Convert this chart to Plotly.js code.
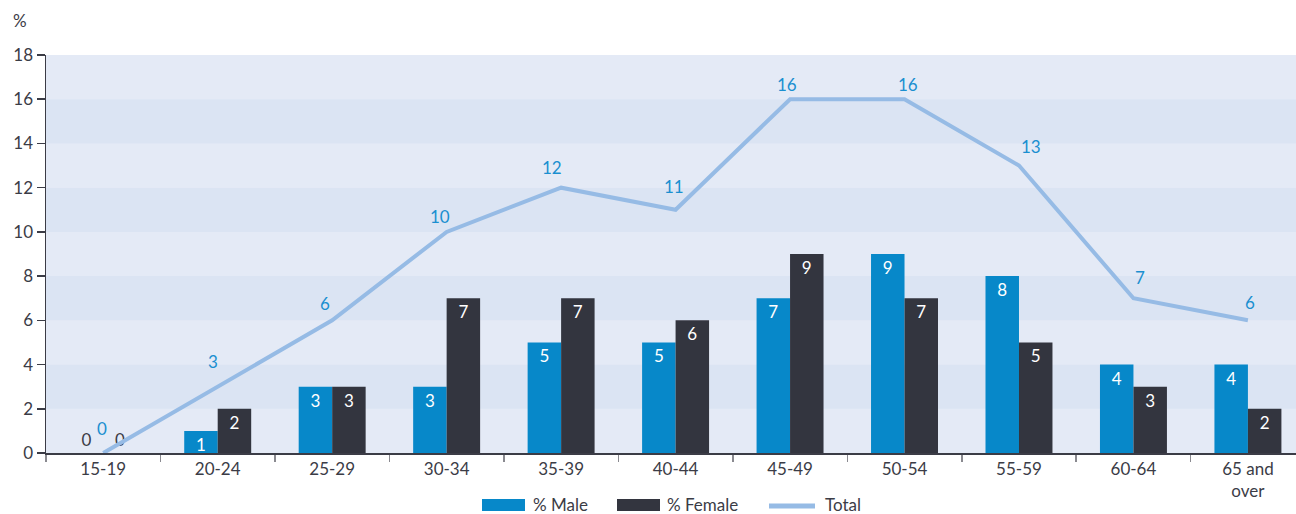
<!DOCTYPE html>
<html>
<head>
<meta charset="utf-8">
<script src="https://cdn.plot.ly/plotly-3.0.1.min.js"></script>
<style>
html,body{margin:0;padding:0;background:#fff;}
#chart{width:1296px;height:514px;}
</style>
</head>
<body>
<div id="chart"></div>
<script>
const categories = ["15-19","20-24","25-29","30-34","35-39","40-44","45-49","50-54","55-59","60-64","65 and<br>over"];
const male = [0,1,3,3,5,5,7,9,8,4,4];
const female = [0,2,3,7,7,6,9,7,5,3,2];
const total = [0,3,6,10,12,11,16,16,13,7,6];
const yTicks = [0,2,4,6,8,10,12,14,16,18];

// label offsets (style only, in pixels) for the Total labels
const totalLabelDx = [-1,-5,-7,-7,-9,-2,-3,3,12,7,2];
const totalLabelDy = [25,25,17,15,20,23,15,15,19,21,18];

const FONT = "Lato, 'Open Sans', sans-serif";
const TXT = "#3b3c46";
const MALE_C = "#0788c9";
const FEMALE_C = "#33353f";
const LINE_C = "#96bbe5";
const LBL_C = "#1a8fd0";

const W = 1296, H = 514, L = 46, T = 55, B = 61, R = 0;
const plotW = W - L - R, plotH = H - T - B;
const px = x => (x - L) / plotW;
const py = y => (H - B - y) / plotH;

const textPos = arr => arr.map(v => v === 0 ? "outside" : "inside");

const traces = [
  {type:"bar", name:"% Male", x:categories, y:male, marker:{color:MALE_C},
   text:male.map(String), textposition:textPos(male), insidetextanchor:"end", textangle:0,
   insidetextfont:{color:"#ffffff", size:17, family:FONT},
   outsidetextfont:{color:TXT, size:17, family:FONT},
   constraintext:"none", cliponaxis:false, hoverinfo:"skip", showlegend:false},
  {type:"bar", name:"% Female", x:categories, y:female, marker:{color:FEMALE_C},
   text:female.map(String), textposition:textPos(female), insidetextanchor:"end", textangle:0,
   insidetextfont:{color:"#ffffff", size:17, family:FONT},
   outsidetextfont:{color:TXT, size:17, family:FONT},
   constraintext:"none", cliponaxis:false, hoverinfo:"skip", showlegend:false},
  {type:"scatter", mode:"lines", name:"Total", x:categories, y:total,
   line:{color:LINE_C, width:4}, cliponaxis:false, hoverinfo:"skip", showlegend:false}
];

const shapes = [];
for (let i = 0; i < 9; i++) {
  shapes.push({type:"rect", xref:"paper", yref:"y", x0:0, x1:1, y0:i*2, y1:i*2+2,
    fillcolor: (i % 2 === 0) ? "#e4eaf6" : "#dbe4f3", line:{width:0}, layer:"below"});
}
// custom legend swatches
shapes.push({type:"rect", xref:"paper", yref:"paper", x0:px(482), x1:px(525), y0:py(499), y1:py(511), fillcolor:MALE_C, line:{width:0}});
shapes.push({type:"rect", xref:"paper", yref:"paper", x0:px(617), x1:px(660), y0:py(499), y1:py(511), fillcolor:FEMALE_C, line:{width:0}});
shapes.push({type:"line", xref:"paper", yref:"paper", x0:px(769), x1:px(815), y0:py(506), y1:py(506), line:{color:LINE_C, width:5}});

const annotations = [
  {xref:"paper", yref:"paper", x:px(20), y:py(20), text:"%", showarrow:false, font:{size:17, color:TXT, family:FONT}, xanchor:"center", yanchor:"middle"},
  {xref:"paper", yref:"paper", x:px(532), y:py(504), text:"% Male", showarrow:false, font:{size:17, color:TXT, family:FONT}, xanchor:"left", yanchor:"middle", borderpad:0},
  {xref:"paper", yref:"paper", x:px(666), y:py(504), text:"% Female", showarrow:false, font:{size:17, color:TXT, family:FONT}, xanchor:"left", yanchor:"middle", borderpad:0},
  {xref:"paper", yref:"paper", x:px(824), y:py(504), text:"Total", showarrow:false, font:{size:17, color:TXT, family:FONT}, xanchor:"left", yanchor:"middle", borderpad:0}
];
categories.forEach((c, i) => {
  annotations.push({xref:"x", yref:"y", x:c, y:total[i], text:String(total[i]), showarrow:false,
    xshift:totalLabelDx[i], yshift:totalLabelDy[i], xanchor:"center", yanchor:"middle",
    font:{size:17, color:LBL_C, family:FONT}});
});

const layout = {
  width:W, height:H,
  margin:{l:L, r:R, t:T, b:B, pad:0},
  paper_bgcolor:"#ffffff", plot_bgcolor:"#e4eaf6",
  barmode:"group", bargap:0.415, bargroupgap:0,
  showlegend:false,
  font:{family:FONT, color:TXT, size:17},
  xaxis:{type:"category", range:[-0.5, 10.42], tickson:"boundaries", ticks:"outside", ticklen:7,
    tickcolor:"#8a8a90", tickwidth:1.5, showline:true, linecolor:"#3b3c46", linewidth:1.5,
    showgrid:false, zeroline:false, tickfont:{size:17, color:TXT, family:FONT}, fixedrange:true},
  yaxis:{range:[0,18], tickvals:yTicks, ticktext:yTicks.map(String), ticks:"outside", ticklen:8,
    tickcolor:"#3b3c46", tickwidth:1.5, showline:true, linecolor:"#3b3c46", linewidth:1.5,
    showgrid:false, zeroline:false, tickfont:{size:17, color:TXT, family:FONT}, fixedrange:true},
  shapes:shapes, annotations:annotations
};

Plotly.newPlot("chart", traces, layout, {displayModeBar:false, staticPlot:true});
</script>
</body>
</html>
